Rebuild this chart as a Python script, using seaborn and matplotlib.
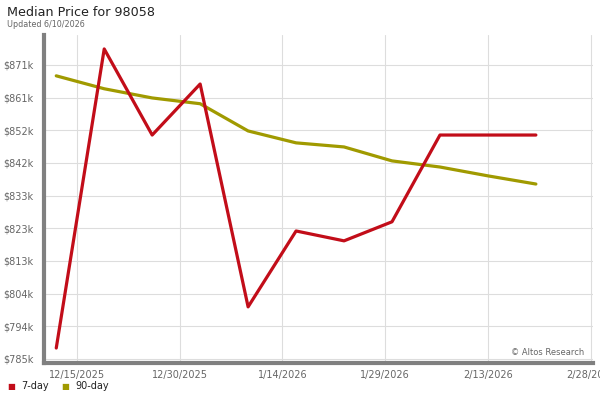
import pandas as pd
import matplotlib
matplotlib.use('Agg')
import matplotlib.pyplot as plt
import seaborn as sns

# Dados (semanal)
datas = pd.to_datetime(['2025-12-12', '2025-12-19', '2025-12-26', '2026-01-02', '2026-01-09',
                        '2026-01-16', '2026-01-23', '2026-01-30', '2026-02-06', '2026-02-13',
                        '2026-02-20'])
preco_7d = [788.2, 876.1, 850.8, 865.8, 800.3, 822.6, 819.7, 825.3, 850.8, 850.8, 850.8]
preco_90d = [868.2, 864.4, 861.7, 860.0, 852.0, 848.5, 847.3, 843.2, 841.4, 838.8, 836.4]

y_ticks = [785, 794.6, 804.2, 813.8, 823.4, 833.0, 842.6, 852.2, 861.8, 871.4]
y_labels = ['$785k', '$794k', '$804k', '$813k', '$823k', '$833k', '$842k', '$852k', '$861k', '$871k']
x_ticks = pd.to_datetime(['2025-12-15', '2025-12-30', '2026-01-14', '2026-01-29', '2026-02-13', '2026-02-28'])
x_labels = ['12/15/2025', '12/30/2025', '1/14/2026', '1/29/2026', '2/13/2026', '2/28/2026']

cor_7d = '#c20d19'
cor_90d = '#a09a00'

sns.set_style('white')
plt.rcParams['font.family'] = ['DejaVu Sans']

fig = plt.figure(figsize=(6, 4), dpi=100)
ax = fig.add_axes([0.0733, 0.0925, 0.915, 0.82])

df = pd.DataFrame({'Data': datas, '7-day': preco_7d, '90-day': preco_90d})
sns.lineplot(data=df, x='Data', y='90-day', color=cor_90d, linewidth=2.3, ax=ax)
sns.lineplot(data=df, x='Data', y='7-day', color=cor_7d, linewidth=2.3, ax=ax)

ax.set_ylim(783.8, 880.2)
ax.set_xlim(pd.Timestamp('2025-12-10 05:00'), pd.Timestamp('2026-02-28 08:00'))
ax.set_yticks(y_ticks)
ax.set_yticklabels(y_labels)
ax.set_xticks(x_ticks)
ax.set_xticklabels(x_labels)
ax.set_xlabel('')
ax.set_ylabel('')
ax.grid(True, color='#dddddd', linewidth=0.8)
ax.tick_params(axis='y', labelsize=7, colors='#666666', length=4, width=0.8, color='#dddddd')
ax.tick_params(axis='x', labelsize=7, colors='#666666', length=0, pad=5)
for lado in ['top', 'right']:
    ax.spines[lado].set_visible(False)
for lado in ['left', 'bottom']:
    ax.spines[lado].set_color('#808080')
    ax.spines[lado].set_linewidth(3)

fig.text(0.012, 0.968, 'Median Price for 98058', fontsize=9.2, color='#222222', va='center')
fig.text(0.012, 0.938, 'Updated 6/10/2026', fontsize=5.8, color='#666666', va='center')
ax.text(0.985, 0.018, '\u00a9 Altos Research', transform=ax.transAxes, fontsize=6,
        color='#666666', ha='right', va='bottom')

# Legenda manual na parte de baixo
fig.text(0.012, 0.035, '\u25a0', color=cor_7d, fontsize=6, va='center')
fig.text(0.035, 0.035, '7-day', color='#222222', fontsize=7, va='center')
fig.text(0.102, 0.035, '\u25a0', color=cor_90d, fontsize=6, va='center')
fig.text(0.125, 0.035, '90-day', color='#222222', fontsize=7, va='center')

fig.savefig('out.png', dpi=100)
